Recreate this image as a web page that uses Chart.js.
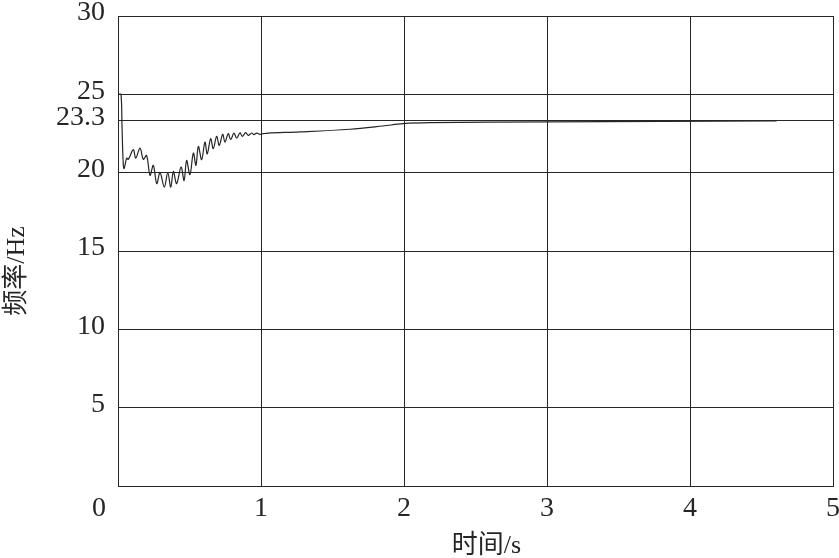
<!DOCTYPE html>
<html>
<head>
<meta charset="utf-8">
<script src="https://cdn.jsdelivr.net/npm/chart.js@4/dist/chart.umd.min.js"></script>
<style>
  html, body { margin: 0; padding: 0; background: #fff; }
  #wrap { width: 839px; height: 558px; position: relative; }
</style>
</head>
<body>
<div id="wrap"><canvas id="freq-chart"></canvas></div>
<script>
// time (s) and frequency (Hz)
const TIME = [
  0.007, 0.021, 0.028, 0.035, 0.042, 0.061, 0.072, 0.107, 0.124, 0.154,
  0.177, 0.200, 0.224, 0.247, 0.271, 0.294, 0.324, 0.348, 0.369, 0.387,
  0.410, 0.441, 0.462, 0.480, 0.503, 0.527, 0.545, 0.562, 0.585, 0.608,
  0.624, 0.648, 0.666, 0.690, 0.708, 0.732, 0.748, 0.771, 0.788, 0.811,
  0.830, 0.853, 0.869, 0.893, 0.911, 0.935, 0.951, 0.972, 0.993, 1.016,
  1.051, 1.273, 1.622, 1.853, 1.993, 2.182, 3.000, 4.606,
]
const FREQ = [
  25.00, 25.00, 23.00, 20.90, 20.25, 20.93, 20.85, 21.47, 20.93, 21.57,
  20.85, 21.10, 19.83, 20.47, 19.30, 20.00, 19.08, 20.00, 19.08, 20.08,
  19.30, 20.36, 19.50, 20.78, 19.87, 21.25, 20.47, 21.68, 20.83, 21.95,
  21.20, 22.17, 21.53, 22.32, 21.74, 22.45, 21.95, 22.49, 22.10, 22.53,
  22.20, 22.55, 22.32, 22.55, 22.38, 22.53, 22.43, 22.53, 22.45, 22.49,
  22.53, 22.60, 22.77, 22.98, 23.13, 23.19, 23.24, 23.30,
]

const Y_TICKS = [0, 5, 10, 15, 20, 23.3, 25, 30]
const X_TITLE = '时间/s'
const Y_TITLE = '频率/Hz'
const ORIGIN_LABEL = '0'

const INK = '#262626'
const TICK_FONT = { family: '"Liberation Serif", "Times New Roman", serif', size: 28 }
const TITLE_FONT = '26px "Liberation Serif", "Noto Sans CJK SC", serif'

// axis titles and the shared origin label sit off the usual spots
const extraText = {
  id: 'extraText',
  afterDraw(chart) {
    const { ctx, chartArea: a } = chart
    ctx.save()
    ctx.fillStyle = INK
    ctx.textAlign = 'center'
    ctx.textBaseline = 'middle'
    ctx.font = `${TICK_FONT.size}px ${TICK_FONT.family}`
    ctx.fillText(ORIGIN_LABEL, a.left - 19, a.bottom + 23)
    ctx.font = TITLE_FONT
    ctx.fillText(X_TITLE, (a.left + a.right) / 2 + 11, a.bottom + 60)
    ctx.translate(17, (a.top + a.bottom) / 2 + 20)
    ctx.rotate(-Math.PI / 2)
    ctx.fillText(Y_TITLE, 0, 0)
    ctx.restore()
  },
}

const zeroPad = (s) => { s.paddingLeft = 0; s.paddingRight = 0; s.paddingTop = 0; s.paddingBottom = 0 }

new Chart(document.getElementById('freq-chart').getContext('2d'), {
  type: 'line',
  data: {
    datasets: [{
      data: TIME.map((t, i) => ({ x: t, y: FREQ[i] })),
      borderColor: INK,
      borderWidth: 1.2,
      pointRadius: 0,
      tension: 0.35,
      fill: false,
    }],
  },
  options: {
    responsive: true,
    maintainAspectRatio: false,
    animation: false,
    layout: { padding: { left: 0, top: 16, right: 6, bottom: 0 } },
    plugins: { legend: { display: false }, tooltip: { enabled: false } },
    scales: {
      x: {
        type: 'linear',
        min: 0,
        max: 5,
        grid: { color: INK, lineWidth: 1, drawTicks: false },
        border: { display: true, color: INK, width: 1 },
        ticks: {
          stepSize: 1,
          color: INK,
          font: TICK_FONT,
          padding: 6,
          maxRotation: 0,
          callback: v => (v === 0 ? '' : String(v)),
        },
        afterFit: s => { zeroPad(s); s.height = 72 },
      },
      y: {
        min: 0,
        max: 30,
        grid: { color: INK, lineWidth: 1, drawTicks: false },
        border: { display: true, color: INK, width: 1 },
        afterBuildTicks: s => { s.ticks = Y_TICKS.map(v => ({ value: v })) },
        ticks: {
          color: INK,
          font: TICK_FONT,
          padding: 13,
          labelOffset: -3,
          callback: v => (v === 0 ? '' : String(v)),
        },
        afterFit: s => { zeroPad(s); s.width = 118 },
      },
    },
  },
  plugins: [extraText],
})
</script>
</body>
</html>
